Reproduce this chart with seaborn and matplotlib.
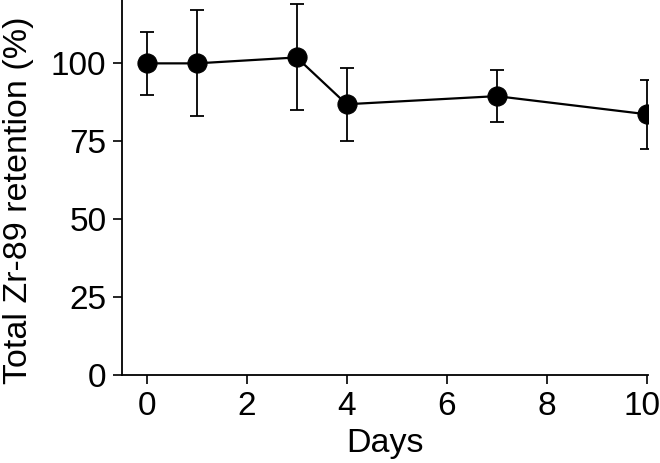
import pandas as pd
import seaborn as sns
import matplotlib
matplotlib.use("Agg")
import matplotlib.pyplot as plt
from matplotlib.transforms import ScaledTranslation

# Data
days = [0, 1, 3, 4, 7, 10]
retention = [100.0, 100.0, 101.9, 86.9, 89.5, 83.7]
retention_sd = [10.0, 17.0, 17.0, 11.7, 8.4, 11.0]
x_ticks = [0, 2, 4, 6, 8, 10]
y_ticks = [0, 25, 50, 75, 100]

df = pd.DataFrame({"Days": days, "Retention": retention, "SD": retention_sd})

sns.set_style("ticks")
plt.rcParams["font.family"] = ["Liberation Sans", "DejaVu Sans"]

fig = plt.figure(figsize=(6.6, 4.63), dpi=100)
ax = fig.add_axes([0.1844, 0.189, 0.7976, 0.811])

# Error bars
ax.errorbar(df["Days"], df["Retention"], yerr=df["SD"], fmt="none",
            ecolor="black", elinewidth=1.3, capsize=5.3, capthick=1.3, zorder=2)

# Line + markers
sns.lineplot(data=df, x="Days", y="Retention", ax=ax, color="black",
             linewidth=1.6, marker="o", markersize=13.8,
             markeredgecolor="black", markerfacecolor="black", zorder=3)

ax.set_xlim(-0.5, 10.03)
ax.set_ylim(0, 120.3)
ax.set_xticks(x_ticks)
ax.set_yticks(y_ticks)
ax.set_xlabel("Days", fontsize=24.5, labelpad=4, color="black")
ax.set_ylabel("Total Zr-89 retention (%)", fontsize=24.5, color="black")
ax.yaxis.set_label_coords(-0.166, 0.466)
ax.tick_params(axis="both", labelsize=24, length=6.5, width=1.2,
               color="black", labelcolor="black")
ax.tick_params(axis="x", pad=5)
ax.tick_params(axis="y", pad=4.5)

sns.despine(ax=ax)
for side in ["left", "bottom"]:
    ax.spines[side].set_linewidth(1.3)
    ax.spines[side].set_color("black")

# the last x label sits a little left of its tick, as in the reference
last = ax.get_xticklabels()[-1]
last.set_transform(last.get_transform() + ScaledTranslation(-5 / 100, 0, fig.dpi_scale_trans))

fig.savefig("out.png", dpi=100)
